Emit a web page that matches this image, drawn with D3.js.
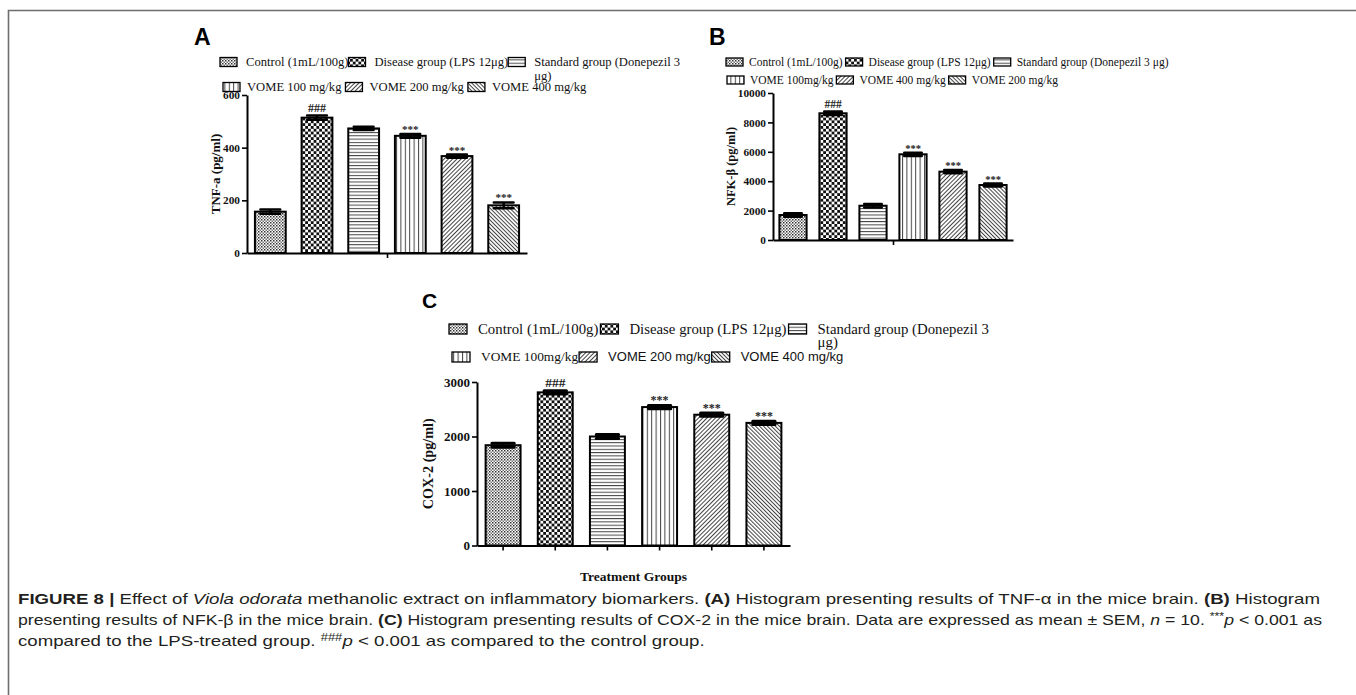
<!DOCTYPE html>
<html>
<head>
<meta charset="utf-8">
<title>Figure 8 - inflammatory biomarkers</title>
<script src="https://d3js.org/d3.v7.min.js"></script>
<style>
  html, body { margin: 0; padding: 0; background: #fff; }
  svg { display: block; }
  .serif { font-family: "Liberation Serif", "Times New Roman", serif; }
  .sans { font-family: "Liberation Sans", Arial, sans-serif; }
</style>
</head>
<body>
<div id="chart"></div>
<script>

// ---- data ----
var groupsA = ["Control (1mL/100g)", "Disease group (LPS 12μg)", "Standard group (Donepezil 3 μg)",
               "VOME 100 mg/kg", "VOME 200 mg/kg", "VOME 400 mg/kg"];
var tnfValues = [157, 514, 473, 445, 368, 181];
var tnfErrors = [8, 8, 6, 7, 6, 11];
var tnfTicks = [0, 200, 400, 600];
var tnfMarks = ["", "###", "", "***", "***", "***"];

var groupsB = ["Control (1mL/100g)", "Disease group (LPS 12μg)", "Standard group (Donepezil 3 μg)",
               "VOME 100mg/kg", "VOME 400 mg/kg", "VOME 200 mg/kg"];
var nfkValues = [1700, 8620, 2330, 5830, 4650, 3740];
var nfkErrors = [110, 110, 120, 110, 110, 100];
var nfkTicks = [0, 2000, 4000, 6000, 8000, 10000];
var nfkMarks = ["", "###", "", "***", "***", "***"];

var groupsC = ["Control (1mL/100g)", "Disease group (LPS 12μg)", "Standard group (Donepezil 3 μg)",
               "VOME 100mg/kg", "VOME 200 mg/kg", "VOME 400 mg/kg"];
var coxValues = [1840, 2810, 2000, 2540, 2400, 2250];
var coxErrors = [35, 30, 35, 30, 30, 30];
var coxTicks = [0, 1000, 2000, 3000];
var coxMarks = ["", "###", "", "***", "***", "***"];

var W = 1356, H = 695;
var svg = d3.select("#chart").append("svg").attr("width", W).attr("height", H);

// frame
svg.append("path")
  .attr("d", "M8.5," + H + "V10.5H" + W)
  .attr("fill", "none").attr("stroke", "#6e6e6e").attr("stroke-width", 1.6);

// fill patterns, one per group position
var defs = svg.append("defs");
function pat(id, w, h, rot) {
  var p = defs.append("pattern").attr("id", id)
    .attr("patternUnits", "userSpaceOnUse").attr("width", w).attr("height", h);
  if (rot) p.attr("patternTransform", "rotate(" + rot + ")");
  p.append("rect").attr("width", w).attr("height", h).attr("fill", "#fff");
  return p;
}
var p0 = pat("pat0", 3, 3);
p0.append("rect").attr("width", 1.5).attr("height", 1.5).attr("fill", "#333");
p0.append("rect").attr("x", 1.5).attr("y", 1.5).attr("width", 1.5).attr("height", 1.5).attr("fill", "#777");
var p1 = pat("pat1", 5.6, 5.6);
p1.append("rect").attr("width", 2.8).attr("height", 2.8).attr("fill", "#111");
p1.append("rect").attr("x", 2.8).attr("y", 2.8).attr("width", 2.8).attr("height", 2.8).attr("fill", "#111");
var p2 = pat("pat2", 4, 3.3);
p2.append("rect").attr("y", 0).attr("width", 4).attr("height", 1).attr("fill", "#444");
var p3 = pat("pat3", 4.4, 4);
p3.append("rect").attr("x", 0).attr("width", 1).attr("height", 4).attr("fill", "#444");
var p4 = pat("pat4", 3, 3, 45);
p4.append("rect").attr("width", 1).attr("height", 3).attr("fill", "#444");
var p5 = pat("pat5", 2.8, 2.8, -45);
p5.append("rect").attr("width", 1).attr("height", 2.8).attr("fill", "#444");

function drawPanel(c) {
  var g = svg.append("g");

  // panel letter
  g.append("text").attr("class", "sans")
    .attr("x", c.letterX).attr("y", c.letterY)
    .attr("font-size", c.letterSize).attr("font-weight", "bold")
    .text(c.letter);

  // legend, flowing left to right in two rows of three
  [[0, 1, 2], [3, 4, 5]].forEach(function (row, r) {
    var lx = c.legX[r], ly = c.legY[r], fsz = c.legSize[r];
    row.forEach(function (i) {
      g.append("rect")
        .attr("x", lx).attr("y", ly - c.sw[1] / 2)
        .attr("width", c.sw[0]).attr("height", c.sw[1])
        .attr("fill", "url(#pat" + i + ")").attr("stroke", "#000").attr("stroke-width", 1.3);
      lx += c.sw[0] + c.swGap[r];
      var label = c.groups[i];
      var lines = [label];
      if (c.wrapDy && i === 2) {
        var k = label.lastIndexOf(" ");
        lines = [label.slice(0, k), label.slice(k + 1)];
      }
      var sans = c.legSans && c.legSans[i];
      var t = g.append("text")
        .attr("class", sans ? "sans" : "serif")
        .attr("font-size", sans ? c.sansSize : fsz)
        .attr("fill", "#111");
      lines.forEach(function (s, j) {
        t.append("tspan").attr("x", lx).attr("y", ly + fsz * 0.33 + j * (c.wrapDy || 0)).text(s);
      });
      var wmax = t.select("tspan").node().getComputedTextLength();
      lx += wmax + c.itemGap[r];
    });
  });

  var x = d3.scaleBand().domain(d3.range(c.values.length))
    .range([c.left, c.right]).paddingInner(c.pad).paddingOuter(c.pad / 2);
  var y = d3.scaleLinear().domain([0, d3.max(c.ticks)]).range([c.y0, c.yTop]);

  // bars
  g.selectAll("rect.bar").data(c.values).enter().append("rect")
    .attr("class", "bar")
    .attr("x", function (d, i) { return x(i); })
    .attr("y", function (d) { return y(d); })
    .attr("width", x.bandwidth())
    .attr("height", function (d) { return y(0) - y(d); })
    .attr("fill", function (d, i) { return "url(#pat" + i + ")"; })
    .attr("stroke", "#000").attr("stroke-width", 2);

  // error bars (mean +/- SEM)
  var cw = x.bandwidth() * 0.32;
  g.selectAll("path.err").data(c.values).enter().append("path")
    .attr("class", "err")
    .attr("d", function (d, i) {
      var cx = x(i) + x.bandwidth() / 2, a = y(d + c.errors[i]), b = y(d - c.errors[i]);
      return "M" + cx + "," + b + "V" + a +
        "M" + (cx - cw) + "," + a + "H" + (cx + cw) +
        "M" + (cx - cw) + "," + b + "H" + (cx + cw);
    })
    .attr("fill", "none").attr("stroke", "#000").attr("stroke-width", c.errW)
    .attr("stroke-linecap", "round");

  // significance marks
  g.selectAll("text.mark").data(c.values).enter().append("text")
    .attr("class", "serif mark")
    .attr("x", function (d, i) { return x(i) + x.bandwidth() / 2; })
    .attr("y", function (d, i) { return y(d + c.errors[i]) - (c.marks[i] === "###" ? 4 : 1); })
    .attr("text-anchor", "middle")
    .attr("font-size", function (d, i) { return c.marks[i] === "###" ? c.hashSize : c.starSize; })
    .attr("font-weight", "bold")
    .attr("fill", "#222")
    .text(function (d, i) { return c.marks[i]; });

  // y axis
  var ya = g.append("g").attr("transform", "translate(" + c.left + ",0)")
    .call(d3.axisLeft(y).tickValues(c.ticks).tickFormat(d3.format("d"))
      .tickSize(5).tickSizeOuter(0).tickPadding(2));
  // x axis
  var xa;
  if (c.allTicks) {
    xa = d3.axisBottom(x).tickFormat("").tickSize(5).tickSizeOuter(0);
  } else {
    xa = d3.axisBottom(d3.scaleLinear().range([c.left, c.right])).tickValues([0.5])
      .tickFormat("").tickSize(5).tickSizeOuter(0);
  }
  var xg = g.append("g").attr("transform", "translate(0," + c.y0 + ")").call(xa);
  [ya, xg].forEach(function (a) {
    a.select(".domain").attr("stroke-width", 2);
    a.selectAll(".tick line").attr("stroke-width", 1.6);
  });
  ya.selectAll("text").attr("class", "serif").attr("font-family", null)
    .attr("font-size", c.tickSize).attr("font-weight", "bold").attr("fill", "#111");

  // y axis title
  g.append("text").attr("class", "serif")
    .attr("transform", "translate(" + c.yLabelX + "," + (c.y0 + c.yTop) / 2 + ") rotate(-90)")
    .attr("text-anchor", "middle").attr("dominant-baseline", "central")
    .attr("font-size", c.yLabelSize).attr("font-weight", "bold").attr("fill", "#111")
    .text(c.yLabel);

  if (c.xLabel) {
    g.append("text").attr("class", "serif")
      .attr("x", (c.left + c.right) / 2).attr("y", c.xLabelY)
      .attr("text-anchor", "middle")
      .attr("font-size", c.xLabelSize).attr("font-weight", "bold").attr("fill", "#111")
      .text(c.xLabel);
  }
}

drawPanel({
  letter: "A", letterX: 194, letterY: 45, letterSize: 23,
  groups: groupsA, values: tnfValues, errors: tnfErrors, ticks: tnfTicks, marks: tnfMarks,
  left: 247, right: 527, yTop: 95, y0: 253, pad: 0.34,
  legX: [220, 223], legY: [62, 87], legSize: [12.6, 12.6], sw: [17, 9], swGap: [9, 7], itemGap: [0, 4],
  wrapDy: 14,
  tickSize: 11.3, yLabel: "TNF-a (pg/ml)", yLabelX: 215, yLabelSize: 13,
  hashSize: 12, starSize: 11, errW: 2.6
});

drawPanel({
  letter: "B", letterX: 709, letterY: 45, letterSize: 23,
  groups: groupsB, values: nfkValues, errors: nfkErrors, ticks: nfkTicks, marks: nfkMarks,
  left: 773, right: 1013, yTop: 93, y0: 240, pad: 0.32,
  legX: [726, 727], legY: [62, 80], legSize: [11.5, 11.5], sw: [17, 8], swGap: [6, 6], itemGap: [3, 3],
  tickSize: 11.3, yLabel: "NFK-β (pg/ml)", yLabelX: 731, yLabelSize: 12.5,
  hashSize: 11.5, starSize: 10.5, errW: 2.6
});

drawPanel({
  letter: "C", letterX: 422, letterY: 308, letterSize: 21,
  groups: groupsC, values: coxValues, errors: coxErrors, ticks: coxTicks, marks: coxMarks,
  left: 477, right: 790, yTop: 382, y0: 545.5, pad: 0.33,
  legX: [449, 452], legY: [329, 357], legSize: [14.8, 13.4], sw: [18, 10], swGap: [11, 11], itemGap: [2, 1],
  legSans: [false, false, false, false, true, true], sansSize: 13,
  wrapDy: 13,
  tickSize: 13, yLabel: "COX-2 (pg/ml)", yLabelX: 428, yLabelSize: 14.2,
  hashSize: 13.5, starSize: 12, errW: 3,
  allTicks: true, xLabel: "Treatment Groups", xLabelY: 581, xLabelSize: 13.5
});

// ---- caption ----
var cap = svg.append("g").attr("class", "sans").attr("fill", "#231f20");
var capLines = [
  [["b", "FIGURE 8 | "], ["", "Effect of "], ["i", "Viola odorata"],
   ["", " methanolic extract on inflammatory biomarkers. "], ["b", "(A)"],
   ["", " Histogram presenting results of TNF-α in the mice brain. "], ["b", "(B)"], ["", " Histogram"]],
  [["", "presenting results of NFK-β in the mice brain. "], ["b", "(C)"],
   ["", " Histogram presenting results of COX-2 in the mice brain. Data are expressed as mean ± SEM, "],
   ["i", "n"], ["", " = 10. "], ["s", "***"], ["i", "p"], ["", " < 0.001 as"]],
  [["", "compared to the LPS-treated group. "], ["s", "###"], ["i", "p"],
   ["", " < 0.001 as compared to the control group."]]
];
var capTexts = capLines.map(function (parts, li) {
  var t = cap.append("text").attr("x", 18).attr("y", 604 + li * 21).attr("font-size", 14.5);
  var sup = false;
  parts.forEach(function (p) {
    var s = t.append("tspan").text(p[1]);
    if (p[0] === "b") s.attr("font-weight", "bold");
    if (p[0] === "i") s.attr("font-style", "italic");
    if (p[0] === "s") s.attr("font-size", "0.7em").attr("dy", -5);
    else if (sup) s.attr("dy", 5);
    sup = p[0] === "s";
  });
  return t;
});
// the printed caption face is condensed: the two full lines are justified,
// the last line is squeezed by the same factor as the first
var squeeze = 1302 / capTexts[0].node().getComputedTextLength();
var capWidths = [1302, 1304, capTexts[2].node().getComputedTextLength() * squeeze];
capTexts.forEach(function (t, i) {
  t.attr("textLength", capWidths[i]).attr("lengthAdjust", "spacingAndGlyphs");
});

</script>
</body>
</html>
